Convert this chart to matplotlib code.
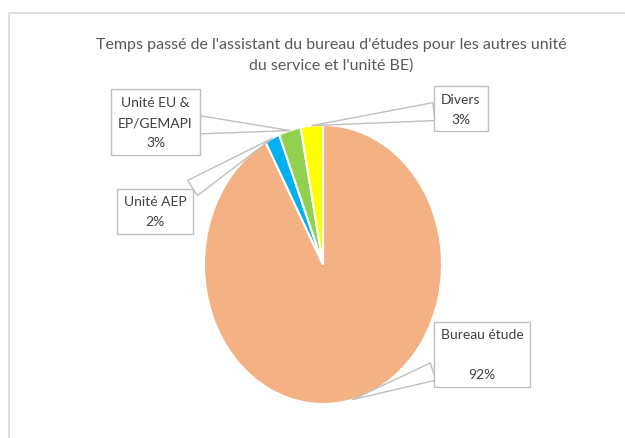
import numpy as np
import matplotlib
matplotlib.use('Agg')
import matplotlib.pyplot as plt
from matplotlib.patches import Rectangle

# Data
categories = ['Bureau étude', 'Unité AEP', 'Unité EU &\nEP/GEMAPI', 'Divers']
shares = [92, 2, 3, 3]
colors = ['#F4B183', '#00B0F0', '#92D050', '#FFFF00']
label_texts = ['Bureau étude\n\n92%', 'Unité AEP\n2%', 'Unité EU &\nEP/GEMAPI\n3%', 'Divers\n3%']

title = "Temps passé de l'assistant du bureau d'études pour les autres unité\ndu service et l'unité BE)"

plt.rcParams['font.family'] = ['Lato', 'DejaVu Sans']

W, H = 625, 439
fig = plt.figure(figsize=(W / 100, H / 100), dpi=100)

def fx(x):
    return x / W

def fy(y):
    return 1 - y / H

# chart area border (cut off at right/bottom in the original)
fig.add_artist(Rectangle((fx(9), -0.1), 1.2, fy(14) + 0.1, transform=fig.transFigure,
                         fill=False, ec='#D9D9D9', lw=1.2))

# pie axes, slightly stretched vertically like the source image
cx, cy, rx, ry = 323, 265.5, 119, 139.5
ax = fig.add_axes([fx(cx - rx), fy(cy + ry), 2 * rx / W, 2 * ry / H])
wedges, _ = ax.pie(shares, colors=colors, startangle=90, counterclock=False,
                   wedgeprops=dict(edgecolor='white', linewidth=1.5))
ax.set_aspect('auto')
ax.set_xlim(-1, 1)
ax.set_ylim(-1, 1)
ax.axis('off')

fig.text(fx(331), fy(55), title, ha='center', va='center', fontsize=11.5,
         color='#595959', linespacing=1.55)

# callout boxes (centres in pixels)
box_pos = [(482, 355.5), (155, 212.5), (155.5, 123), (461, 109.5)]
for w, txt, (bx, by) in zip(wedges, label_texts, box_pos):
    ang = np.deg2rad((w.theta1 + w.theta2) / 2)
    tip = (np.cos(ang), np.sin(ang))
    ax.annotate(txt, xy=tip, xycoords='data',
                xytext=(fx(bx), fy(by)), textcoords='figure fraction',
                ha='center', va='center', fontsize=10, color='#404040',
                linespacing=1.8, annotation_clip=False,
                bbox=dict(boxstyle='square,pad=0.5', fc='white', ec='#BFBFBF', lw=1),
                arrowprops=dict(arrowstyle='wedge,tail_width=1.3', fc='white',
                                ec='#BFBFBF', lw=1, shrinkA=0, shrinkB=0))

fig.savefig('out.png', dpi=100, facecolor='white')
